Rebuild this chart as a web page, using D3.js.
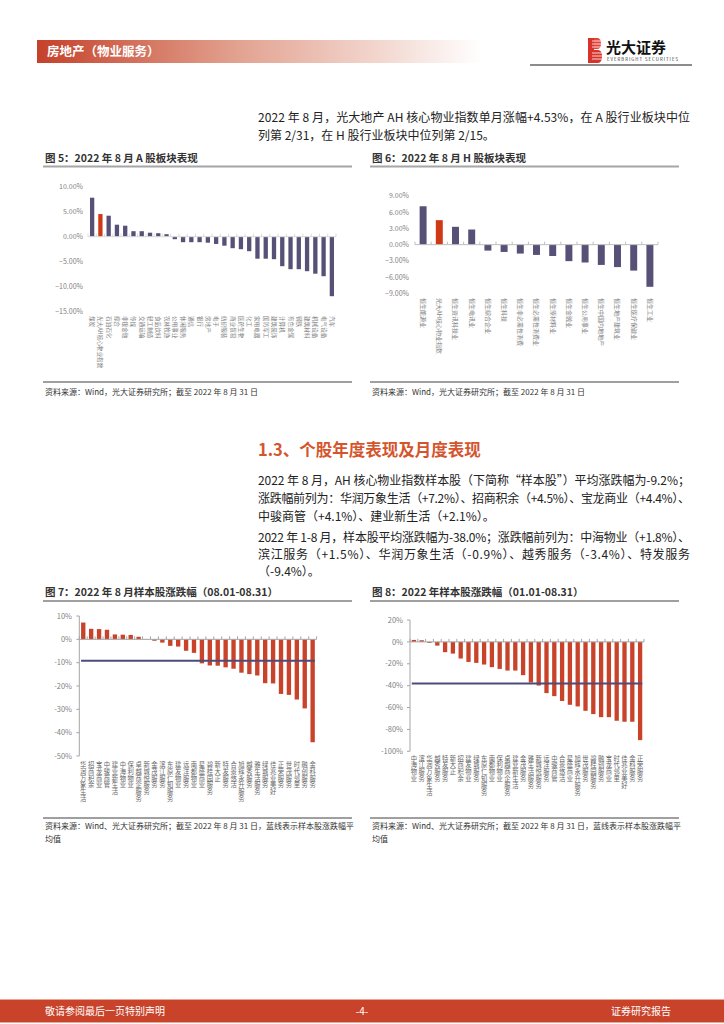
<!DOCTYPE html>
<html>
<head>
<meta charset="utf-8">
<script src="https://cdn.jsdelivr.net/npm/d3@7"></script>
<style>
  body { margin: 0; background: #fff; }
  svg { display: block; }
  text { font-family: "Noto Sans CJK SC", "Noto Sans", sans-serif; }
</style>
</head>
<body>
<svg id="page" width="724" height="1024"></svg>
<script>
// ---- data ----
// fig 5: A-share sectors, Aug 2022 (%)
var aCats = ["煤炭", "光大AH核心物业指数", "石油石化", "综合", "非银金融", "传媒", "交通运输", "轻工制造", "食品饮料", "农林牧渔",
  "公用事业", "休闲服务", "通信", "银行", "房地产", "电子", "纺织服装", "商业贸易", "医药生物", "化工",
  "家用电器", "国防军工", "建筑装饰", "计算机", "有色金属", "钢铁", "建筑材料", "机械设备", "电气设备", "汽车"];
var aVals = [7.8, 4.53, 4.2, 2.4, 2.2, 1.1, 1.1, 0.8, 0.7, 0.5,
  -0.5, -1.1, -1.1, -1.1, -1.2, -1.45, -1.8, -2.3, -2.5, -2.9,
  -4.4, -4.4, -4.5, -5.9, -6.5, -6.5, -6.9, -7.4, -7.9, -11.9];
var aTicks = [10, 5, 0, -5, -10, -15];

// fig 6: HK sectors, Aug 2022 (%)
var hCats = ["恒生能源业", "光大AH核心物业指数", "恒生资讯科技业", "恒生电讯业", "恒生综合企业", "恒生科技", "恒生非必需性消费",
  "恒生必需性消费业", "恒生原材料业", "恒生金融业", "恒生公用事业", "恒生中国内地地产", "恒生地产建筑业", "恒生医疗保健业", "恒生工业"];
var hVals = [7.1, 4.53, 3.3, 2.8, -1.1, -1.35, -1.65, -1.9, -2.1, -3.05, -3.3, -3.75, -4.15, -4.8, -7.8];
var hTicks = [9, 6, 3, 0, -3, -6, -9];

var indexName = "光大AH核心物业指数";

// fig 7: sample stocks, 08.01-08.31 (%)
var mCats = ["华润万象生活", "招商积余", "宝龙商业", "中骏商管", "建业新生活", "中海物业", "保利物业", "卓越商企服务", "新城悦服务", "金茂服务",
  "滨江服务", "东原仁知服务", "建发物业", "远洋服务", "南都物业", "星盛商业", "碧桂园服务", "新大正", "特发服务", "合景悠活",
  "旭辉永升服务", "越秀服务", "雅生活服务", "绿城服务", "佳兆业美好", "正荣服务", "世茂服务", "时代邻里", "融创服务", "金科服务"];
var mVals = [7.2, 4.5, 4.4, 4.1, 2.1, 2.0, 1.9, 1.1, -0.1, -0.6,
  -1.4, -2.8, -3.1, -4.9, -5.8, -10.3, -11.2, -11.3, -12.0, -12.6,
  -14.3, -14.9, -15.5, -18.8, -18.9, -23.4, -23.8, -25.8, -29.6, -44.1];
var mAvg = -9.2;
var mTicks = [10, 0, -10, -20, -30, -40, -50];

// fig 8: sample stocks, 01.01-08.31 (%)
var yCats = ["中海物业", "滨江服务", "华润万象生活", "越秀服务", "特发服务", "新大正", "招商积余", "建发物业", "绿城服务", "东原仁知服务",
  "南都物业", "保利物业", "卓越商企服务", "建业新生活", "金茂服务", "雅生活服务", "新城悦服务", "远洋服务", "中骏商管", "合景悠活",
  "星盛商业", "旭辉永升服务", "世茂服务", "碧桂园服务", "融创服务", "宝龙商业", "时代邻里", "佳兆业美好", "金科服务", "正荣服务"];
var yVals = [1.8, 1.5, -0.9, -3.4, -9.4, -10.7, -15.2, -18.3, -19.2, -20.7,
  -23.1, -24.7, -26.2, -26.2, -30.4, -37.1, -39.9, -46.8, -49.6, -54.0,
  -57.5, -59.0, -63.0, -66.0, -68.8, -68.8, -72.1, -73.0, -73.0, -89.8];
var yAvg = -38.0;
var yTicks = [20, 0, -20, -40, -60, -80, -100];

var RED = "#c8432a";
var PURPLE = "#575177";

var svg = d3.select("#page");

// ---- page header ----
var defs = svg.append("defs");
var grad = defs.append("linearGradient").attr("id", "hdr").attr("x1", "0").attr("x2", "1");
grad.append("stop").attr("offset", "0").attr("stop-color", "#c5412a");
grad.append("stop").attr("offset", "0.45").attr("stop-color", "#e2a290");
grad.append("stop").attr("offset", "0.8").attr("stop-color", "#f4dcd5");
grad.append("stop").attr("offset", "1").attr("stop-color", "#ffffff");
svg.append("rect").attr("x", 37).attr("y", 40).attr("width", 445).attr("height", 23).attr("fill", "url(#hdr)");
svg.append("text").attr("x", 47).attr("y", 56).attr("font-size", 12.5).attr("font-weight", "bold")
  .attr("fill", "#fff").text("房地产（物业服务）");

// logo
var logo = svg.append("g");
logo.append("rect").attr("x", 588).attr("y", 38).attr("width", 6).attr("height", 25).attr("fill", "#d8322a");
logo.append("path").attr("d", "M594,38 h3 q4,0 4,5.5 q0,5.5 -4,5.5 h-3 Z").attr("fill", "#e8413a");
logo.append("path").attr("d", "M594,50 h4 q4,0 4,6.5 q0,6.5 -4,6.5 h-4 Z").attr("fill", "#d8322a");
[41, 44, 47, 53, 56, 59].forEach(function(yy){
  logo.append("line").attr("x1", 592).attr("x2", 603).attr("y1", yy).attr("y2", yy)
    .attr("stroke", "#fff").attr("stroke-width", 0.8);
});
logo.append("text").attr("x", 606).attr("y", 53).attr("font-size", 15).attr("font-weight", "bold")
  .attr("fill", "#111").text("光大证券");
logo.append("text").attr("x", 607).attr("y", 61).attr("font-size", 4.3).attr("fill", "#333")
  .attr("textLength", 71).text("EVERBRIGHT SECURITIES");
svg.append("line").attr("x1", 530).attr("x2", 692).attr("y1", 65).attr("y2", 65)
  .attr("stroke", "#8c8c8c").attr("stroke-width", 2);

// ---- body text ----
function para(x, y, str, fullWidth) {
  var t = svg.append("text").attr("x", x).attr("y", y).attr("font-size", 12).attr("fill", "#222").text(str);
  if (fullWidth) t.attr("textLength", fullWidth).attr("lengthAdjust", "spacing");
  return t;
}
para(258, 122, "2022 年 8 月，光大地产 AH 核心物业指数单月涨幅+4.53%，在 A 股行业板块中位", 432);
para(258, 140, "列第 2/31，在 H 股行业板块中位列第 2/15。");

svg.append("text").attr("x", 258).attr("y", 456).attr("font-size", 16.5).attr("font-weight", "bold")
  .attr("fill", "#d4552d").text("1.3、个股年度表现及月度表现");

para(258, 485, "2022 年 8 月，AH 核心物业指数样本股（下简称“样本股”）平均涨跌幅为-9.2%；", 432);
para(258, 503, "涨跌幅前列为：华润万象生活（+7.2%）、招商积余（+4.5%）、宝龙商业（+4.4%）、", 432);
para(258, 521, "中骏商管（+4.1%）、建业新生活（+2.1%）。");
para(258, 542, "2022 年 1-8 月，样本股平均涨跌幅为-38.0%；涨跌幅前列为：中海物业（+1.8%）、", 432);
para(258, 559, "滨江服务（+1.5%）、华润万象生活（-0.9%）、越秀服务（-3.4%）、特发服务", 432);
para(258, 576, "（-9.4%）。");

// ---- figure frames ----
function figTitle(x, y, str, lineY, lineColor, lineW) {
  svg.append("text").attr("x", x).attr("y", y).attr("font-size", 10.5).attr("font-weight", "bold")
    .attr("fill", "#333").text(str);
  svg.append("line").attr("x1", x - 2).attr("x2", x + 307).attr("y1", lineY).attr("y2", lineY)
    .attr("stroke", lineColor).attr("stroke-width", lineW);
}
figTitle(45, 162, "图 5：2022 年 8 月 A 股板块表现", 166.5, "#a6a6a6", 2);
figTitle(372, 162, "图 6：2022 年 8 月 H 股板块表现", 166.5, "#a6a6a6", 2);
figTitle(45, 596, "图 7：2022 年 8 月样本股涨跌幅（08.01-08.31）", 601, "#404040", 1);
figTitle(372, 596, "图 8：2022 年样本股涨跌幅（01.01-08.31）", 601, "#404040", 1);

function source(x, y, lines, ruleY) {
  svg.append("line").attr("x1", x - 2).attr("x2", x + 307).attr("y1", ruleY).attr("y2", ruleY)
    .attr("stroke", "#404040").attr("stroke-width", 1);
  lines.forEach(function(s, i){
    svg.append("text").attr("x", x).attr("y", y + i * 12.5).attr("font-size", 8).attr("fill", "#333").text(s);
  });
}
source(45, 395, ["资料来源：Wind，光大证券研究所；截至 2022 年 8 月 31 日"], 382);
source(372, 395, ["资料来源：Wind，光大证券研究所；截至 2022 年 8 月 31 日"], 382);
source(45, 829, ["资料来源：Wind、光大证券研究所；截至 2022 年 8 月 31 日，蓝线表示样本股涨跌幅平", "均值"], 818);
source(372, 829, ["资料来源：Wind、光大证券研究所；截至 2022 年 8 月 31 日，蓝线表示样本股涨跌幅平", "均值"], 818);

// ---- bar chart helper ----
function barChart(c) {
  var g = svg.append("g");
  var x = d3.scaleBand().domain(c.cats).range([c.x0, c.x1])
    .paddingInner(c.pad).paddingOuter(c.pad / 2);
  var y = d3.scaleLinear().domain(c.domain).range([c.yBot, c.yTop]);

  g.selectAll("text.yt").data(c.ticks).enter().append("text")
    .attr("x", c.tickX).attr("y", function(d){ return y(d); }).attr("dy", "0.35em")
    .attr("text-anchor", "end").attr("font-size", c.tickSize).attr("fill", "#7f7f7f")
    .text(c.fmt);

  if (c.yAxisX != null) {
    g.append("line").attr("x1", c.yAxisX).attr("x2", c.yAxisX).attr("y1", c.yTop).attr("y2", c.yBot)
      .attr("stroke", "#a6a6a6");
    g.selectAll("line.ytk").data(c.ticks).enter().append("line")
      .attr("x1", c.yAxisX - 3).attr("x2", c.yAxisX)
      .attr("y1", function(d){ return y(d); }).attr("y2", function(d){ return y(d); })
      .attr("stroke", "#a6a6a6");
  }

  g.selectAll("rect.bar").data(c.vals).enter().append("rect")
    .attr("x", function(d, i){ return x(c.cats[i]); })
    .attr("y", function(d){ return y(Math.max(0, d)); })
    .attr("width", x.bandwidth())
    .attr("height", function(d){ return Math.abs(y(d) - y(0)); })
    .attr("fill", function(d, i){ return c.cats[i] === indexName ? c.hiColor : c.barColor; });

  // zero axis with category ticks
  var ax0 = c.yAxisX != null ? c.yAxisX : c.x0;
  g.append("line").attr("x1", ax0).attr("x2", c.x1).attr("y1", y(0)).attr("y2", y(0))
    .attr("stroke", c.axisColor);
  var bounds = d3.range(c.cats.length + 1).map(function(i){ return c.x0 + i * x.step(); });
  g.selectAll("line.xtk").data(bounds).enter().append("line")
    .attr("x1", function(d){ return d; }).attr("x2", function(d){ return d; })
    .attr("y1", y(0) - 3).attr("y2", y(0)).attr("stroke", c.axisColor);

  if (c.avg != null) {
    var first = c.cats[0], last = c.cats[c.cats.length - 1];
    g.append("line").attr("x1", x(first)).attr("x2", x(last) + x.bandwidth())
      .attr("y1", y(c.avg)).attr("y2", y(c.avg))
      .attr("stroke", "#4d4b7c").attr("stroke-width", 2);
  }

  // category labels
  g.selectAll("text.cat").data(c.cats).enter().append("text")
    .attr("font-size", c.labelSize)
    .each(function(name){
      var t = d3.select(this);
      var cx = x(name) + x.bandwidth() / 2;
      if (c.labelMode === "rotate") {
        t.attr("transform", "translate(" + cx + "," + c.labelY + ") rotate(90)")
          .attr("dy", "0.35em").attr("fill", "#7f7f7f").text(name);
      } else {
        // upright characters stacked one per line
        t.attr("text-anchor", "middle").attr("fill", "#666");
        Array.from(name).forEach(function(ch, k){
          t.append("tspan").attr("x", cx)
            .attr("y", c.labelY + c.labelSize * 0.88 + k * c.labelStep)
            .text(ch);
        });
      }
    });
}

barChart({
  cats: aCats, vals: aVals, domain: [-15, 10], ticks: aTicks,
  x0: 88, x1: 336, yTop: 186.7, yBot: 311.7, pad: 0.48,
  tickX: 83, tickSize: 7, fmt: function(d){ return d3.format(".2f")(d) + "%"; },
  barColor: PURPLE, hiColor: "#cf3a16", axisColor: "#d9d9d9",
  labelMode: "rotate", labelY: 316, labelSize: 5.6
});

barChart({
  cats: hCats, vals: hVals, domain: [-9, 9], ticks: hTicks,
  x0: 415, x1: 658, yTop: 196, yBot: 293.3, pad: 0.57,
  tickX: 409, tickSize: 7, fmt: function(d){ return d3.format(".2f")(d) + "%"; },
  barColor: PURPLE, hiColor: "#cf3a16", axisColor: "#bfbfbf",
  labelMode: "rotate", labelY: 298, labelSize: 6
});

barChart({
  cats: mCats, vals: mVals, domain: [-50, 10], ticks: mTicks,
  x0: 79.3, x1: 316.6, yTop: 616, yBot: 756, pad: 0.45, yAxisX: 79.3,
  tickX: 72, tickSize: 7.5, fmt: function(d){ return d + "%"; },
  barColor: RED, hiColor: RED, axisColor: "#a6a6a6", avg: mAvg,
  labelMode: "stack", labelY: 761.5, labelSize: 6.3, labelStep: 6.8
});

barChart({
  cats: yCats, vals: yVals, domain: [-100, 20], ticks: yTicks,
  x0: 410, x1: 644, yTop: 620, yBot: 751.3, pad: 0.45, yAxisX: 410,
  tickX: 403, tickSize: 7.5, fmt: function(d){ return d + "%"; },
  barColor: RED, hiColor: RED, axisColor: "#a6a6a6", avg: yAvg,
  labelMode: "stack", labelY: 755, labelSize: 6.3, labelStep: 6.8
});

// ---- footer ----
svg.append("rect").attr("x", 0).attr("y", 999).attr("width", 724).attr("height", 1).attr("fill", "#e6a797");
svg.append("rect").attr("x", 0).attr("y", 1000).attr("width", 724).attr("height", 22).attr("fill", "#c8432a");
svg.append("rect").attr("x", 0).attr("y", 1022).attr("width", 724).attr("height", 1).attr("fill", "#e6a797");
svg.append("text").attr("x", 45).attr("y", 1015).attr("font-size", 10).attr("fill", "#fff").text("敬请参阅最后一页特别声明");
svg.append("text").attr("x", 362).attr("y", 1015).attr("font-size", 10).attr("fill", "#fff")
  .attr("text-anchor", "middle").text("-4-");
svg.append("text").attr("x", 611).attr("y", 1015).attr("font-size", 10).attr("fill", "#fff").text("证券研究报告");
</script>
</body>
</html>
